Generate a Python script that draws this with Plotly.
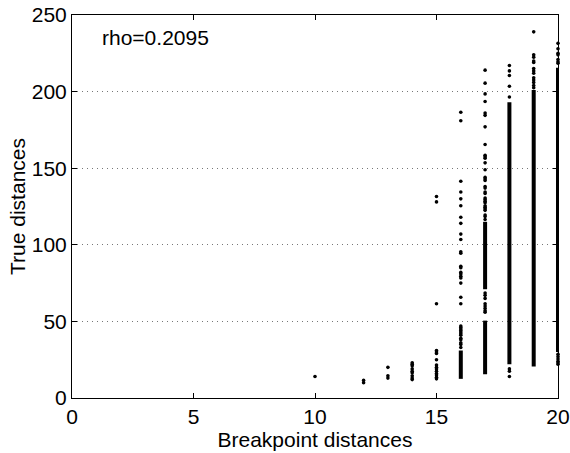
import plotly.graph_objects as go

# Scattered individual points, per breakpoint distance
pts_10 = [14]
pts_12 = [10, 11.5]
pts_13 = [20, 14.5, 13]
pts_14 = [23, 22, 21, 19, 17.5, 16.5, 14.5, 13, 12]
pts_15 = [131.5, 128, 61.5, 31, 30, 29, 25, 21.5, 20, 19, 17.5, 16, 15, 13.5, 12.5]
pts_16 = [186.5, 181, 141.5, 134.5, 130, 125.5, 118, 114, 107, 103.5, 95.5, 94.5,
          86, 85, 82, 81, 79.5, 78.3, 75, 65.8, 61.5,
          47, 46, 45, 44, 43, 42, 41, 39, 38, 36, 35, 33]
pts_17 = [214, 205.5, 198.5, 193.5, 186, 184.5, 177, 165.5, 158.5, 157.5, 156.5,
          153.5, 149, 144, 143, 142, 138, 137, 134.5, 133.5, 130.5, 129.5, 128.5,
          127.5, 125.5, 124.5, 123.5, 122.5, 119.5, 118.5, 116.5,
          68.5, 67, 65, 61.5, 60, 58.5, 57, 56]
pts_18 = [217, 213.5, 210.5, 203.5, 196.5, 19, 17.5, 14]
pts_19 = [239, 224, 222.5, 220, 219, 215, 213.5, 212, 209, 207.5, 206, 204, 202.5]
pts_20 = [231.5, 228, 225, 224, 221, 219.5, 218.5, 28.5, 27, 25.5, 24, 23, 22]

# Densely packed ranges (too many points to separate): column, low, high
dense_x = [16, 17, 17, 18, 19, 20]
dense_lo = [12.5, 71, 15.5, 22, 20.5, 30]
dense_hi = [31, 115, 50.5, 193, 201, 215.5]

x_ticks = [0, 5, 10, 15, 20]
y_ticks = [0, 50, 100, 150, 200, 250]
rho_text = "rho=0.2095"

columns = {10: pts_10, 12: pts_12, 13: pts_13, 14: pts_14, 15: pts_15,
           16: pts_16, 17: pts_17, 18: pts_18, 19: pts_19, 20: pts_20}

sx, sy = [], []
for c, vals in columns.items():
    sx += [c] * len(vals)
    sy += vals

lx, ly = [], []
for c, lo, hi in zip(dense_x, dense_lo, dense_hi):
    lx += [c, c, None]
    ly += [lo, hi, None]

fig = go.Figure()
fig.add_trace(go.Scatter(x=lx, y=ly, mode="lines",
                         line=dict(color="black", width=4),
                         cliponaxis=False, hoverinfo="skip", showlegend=False))
fig.add_trace(go.Scatter(x=sx, y=sy, mode="markers",
                         marker=dict(color="black", size=3.6, symbol="circle", line=dict(width=0)),
                         cliponaxis=False, showlegend=False))

font = dict(family="Liberation Sans, Arial, sans-serif", size=21, color="black")

fig.add_annotation(x=1.15, y=235, text=rho_text, showarrow=False,
                   xanchor="left", yanchor="middle", font=font)

fig.update_layout(
    width=570, height=453,
    margin=dict(l=72, r=12, t=15, b=55, autoexpand=False),
    paper_bgcolor="white", plot_bgcolor="white",
    font=font,
    xaxis=dict(range=[0, 20], tickvals=x_ticks, ticks="inside", ticklen=5,
               tickcolor="black", showline=True, linecolor="black", linewidth=1,
               mirror="ticks", showgrid=False, zeroline=False, automargin=False,
               title=dict(text="Breakpoint distances", standoff=0, font=font),
               tickfont=font),
    yaxis=dict(range=[0, 250], tickvals=y_ticks, ticks="inside", ticklen=5,
               tickcolor="black", showline=True, linecolor="black", linewidth=1,
               mirror="ticks", showgrid=True, gridcolor="#777777", griddash="1px,4px",
               gridwidth=1, zeroline=False, automargin=False,
               title=dict(text="True distances", standoff=0, font=font),
               tickfont=font),
)

fig.write_html("out.html")
